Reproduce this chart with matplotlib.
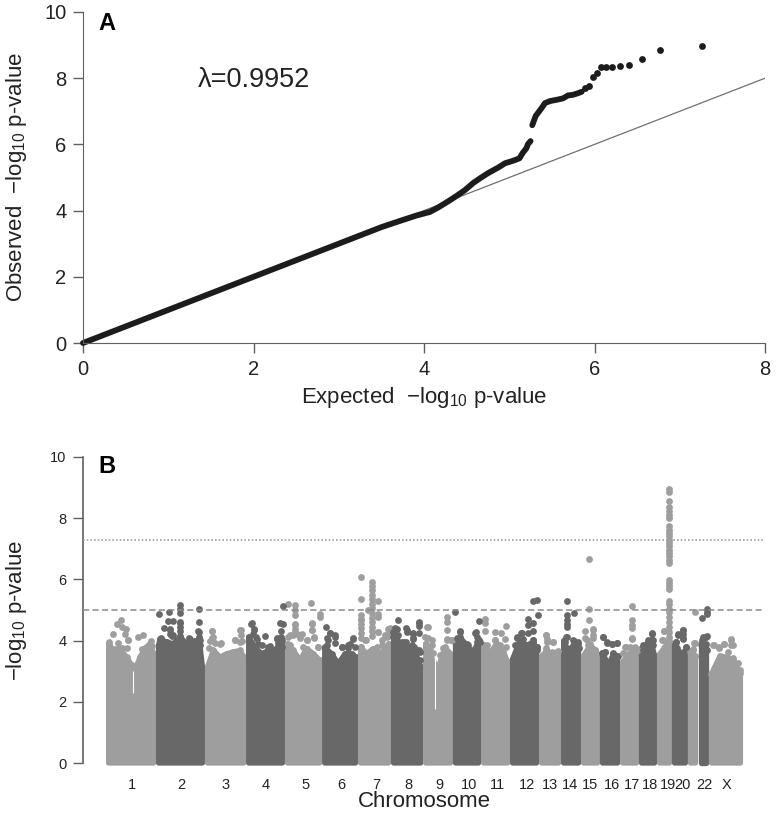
from matplotlib import pyplot as plt

plt.rcParams["font.family"] = ["Liberation Sans", "DejaVu Sans"]
plt.rcParams["mathtext.fontset"] = "custom"
plt.rcParams["mathtext.rm"] = "Liberation Sans"
plt.rcParams["mathtext.default"] = "regular"

LIGHT = "#9e9e9e"
DARK = "#686868"
INK = "#222222"
AXIS = "#606060"

# panel A, the thick part of the curve
qq_x = [0, 1, 2, 3, 3.5, 3.72, 3.91, 4.07, 4.17, 4.29, 4.38, 4.48, 4.58, 4.66, 4.75, 4.87,
        4.95, 5.05, 5.12, 5.16, 5.20, 5.22, 5.25]
qq_y = [0, 1, 2, 3, 3.5, 3.69, 3.85, 3.96, 4.10, 4.29, 4.44, 4.62, 4.84, 4.98, 5.13, 5.30,
        5.43, 5.51, 5.58, 5.75, 5.88, 6.01, 6.10]
qq_upper_x = [5.27, 5.29, 5.31, 5.34, 5.38, 5.42, 5.48, 5.56, 5.63, 5.69, 5.75, 5.81, 5.85]
qq_upper_y = [6.58, 6.72, 6.86, 6.96, 7.10, 7.25, 7.31, 7.35, 7.39, 7.48, 7.50, 7.55, 7.59]
# panel A, separate points
qq_dots_x = [5.89, 5.93, 5.98, 6.03, 6.08, 6.14, 6.21, 6.30, 6.41, 6.56, 6.77, 7.26]
qq_dots_y = [7.71, 7.75, 8.04, 8.16, 8.34, 8.34, 8.34, 8.38, 8.40, 8.57, 8.86, 8.98]

# panel B, top of the solid mass per chromosome
chrom_pos = [
    [12, 35, 66, 98, 122, 138, 162, 185, 209, 226],
    [250, 257, 289, 320, 352, 384, 415, 447, 459],
    [483, 511, 543, 574, 606, 638, 655],
    [679, 709, 741, 773, 804, 840],
    [864, 892, 923, 955, 987, 1017],
    [1041, 1074, 1106, 1138, 1169, 1188],
    [1212, 1241, 1272, 1304, 1336, 1345],
    [1369, 1400, 1432, 1464, 1498],
    [1522, 1543, 1556, 1583, 1614, 1640],
    [1664, 1686, 1718, 1749, 1774],
    [1798, 1829, 1860, 1892, 1912],
    [1936, 1971, 2003, 2035, 2050],
    [2074, 2099, 2130, 2155],
    [2179, 2202, 2233, 2250],
    [2274, 2305, 2329, 2340],
    [2364, 2392, 2416, 2436],
    [2460, 2487, 2511, 2526],
    [2550, 2575, 2598, 2612],
    [2636, 2662, 2683],
    [2707, 2733, 2759],
    [2783, 2807],
    [2831, 2859],
    [2883, 2924, 2955, 2987, 3021],
]
chrom_top = [
    [3.9, 3.68, 3.74, 3.46, 3.2, 3.05, 3.46, 3.74, 3.9, 3.57],
    [3.85, 4.06, 3.95, 3.9, 4.12, 3.9, 3.95, 3.85, 3.14],
    [3.14, 3.68, 3.46, 3.57, 3.63, 3.68, 3.46],
    [4.12, 3.79, 3.57, 3.68, 3.68, 4.01],
    [3.9, 3.68, 3.36, 3.74, 3.57, 3.36],
    [3.79, 3.57, 3.25, 3.57, 3.57, 3.46],
    [3.79, 3.57, 3.74, 3.57, 3.79, 3.9],
    [4.0, 3.79, 3.79, 3.79, 3.14],
    [3.9, 3.68, 3.3, 3.14, 3.79, 3.57],
    [3.95, 4.12, 3.8, 3.65, 3.95],
    [3.85, 3.6, 3.9, 3.65, 3.3],
    [3.4, 4.0, 3.85, 3.95, 3.7],
    [3.5, 3.65, 3.4, 3.55],
    [4.0, 3.6, 3.95, 3.75],
    [3.5, 3.85, 3.7, 3.55],
    [3.6, 3.2, 3.55, 3.5],
    [3.3, 3.55, 3.7, 3.5],
    [3.75, 3.9, 3.9, 3.5],
    [3.55, 3.8, 4.0],
    [3.9, 3.6, 3.65],
    [3.65, 3.5],
    [3.9, 3.9],
    [2.92, 3.5, 3.45, 3.35, 2.95],
]
chrom_color = [LIGHT, DARK] * 11 + [LIGHT]

# centromere notches
notch_x = [128, 1567]
notch_low = [2.3, 1.75]
notch_high = [3.0, 3.4]

# panel B, points above the mass
light_x = [71, 50, 74, 95, 90, 106, 31, 154, 174,
           15, 15, 58, 74, 106, 98, 42, 185, 212, 217, 169,
           506, 511, 495, 543, 642, 642, 615, 638,
           503, 503, 519, 545, 491, 614, 646, 638,
           866, 899, 899, 899, 974, 1019, 1019, 899, 899, 982, 979, 907, 931, 876, 955, 990, 1011,
           868, 892, 924, 956, 988, 1011, 900, 900, 980, 980, 876, 940,
           1214, 1212, 1214, 1214, 1214, 1214, 1214, 1214,
           1268, 1268, 1268, 1268, 1268, 1268, 1268, 1268, 1268, 1268, 1268, 1268, 1268,
           1296, 1246, 1296, 1296, 1293, 1238, 1344, 1328, 1352, 1312,
           1214, 1233, 1297, 1337, 1353, 1349, 1313, 1289, 1214,
           1532, 1519, 1551, 1622, 1622, 1622, 1622, 1641,
           1530, 1535, 1551, 1559, 1606, 1622, 1646, 1590,
           1805, 1805, 1805, 1852, 1879, 1905, 1900, 1852, 1813,
           1805, 1852, 1876, 1905, 1828,
           2094, 2098, 2130, 2094, 2154,
           2094, 2098, 2128, 2094, 2122, 2149,
           2300, 2300, 2300, 2321, 2281, 2321, 2289, 2305,
           2281, 2318, 2321, 2297, 2305, 2329,
           2506, 2506, 2506, 2506, 2503, 2471, 2495,
           2475, 2503, 2519, 2535, 2464,
           2681, 2681, 2681, 2681, 2681, 2681, 2681, 2681, 2681, 2681, 2681, 2681, 2681, 2681,
           2681, 2681, 2681, 2681, 2681, 2681, 2681, 2681, 2681, 2681, 2681, 2681, 2681, 2681,
           2681, 2681, 2681, 2681, 2681, 2659, 2654,
           2657, 2646, 2662,
           2803, 2803, 2797, 2802, 2797,
           2895, 2921, 2943, 2974, 2974,
           2892, 2921, 2943, 2976, 2984, 2963, 2987, 3011, 3019, 2924]
light_y = [4.68, 4.55, 4.44, 4.39, 4.23, 4.01, 4.20, 4.12, 4.17,
           3.96, 3.76, 3.92, 3.76, 4.03, 3.76, 3.71, 3.76, 3.98, 3.82, 3.71,
           4.30, 4.12, 4.0, 3.9, 4.34, 4.17, 4.03, 3.95,
           4.3, 4.08, 3.92, 3.92, 3.76, 4.03, 3.98, 4.36,
           5.2, 5.15, 4.99, 4.83, 5.23, 4.88, 4.77, 4.55, 4.39, 4.55, 4.34, 4.23, 4.2, 4.17, 4.03, 4.12, 3.79,
           4.13, 4.18, 4.08, 4.02, 4.08, 3.8, 4.51, 4.29, 4.57, 4.35, 3.86, 3.8,
           6.08, 5.37, 4.83, 4.7, 4.55, 4.4, 4.25, 4.1,
           5.92, 5.8, 5.65, 5.5, 5.35, 5.2, 5.05, 4.9, 4.75, 4.6, 4.45, 4.3, 4.15,
           5.29, 4.99, 4.88, 4.77, 4.28, 4.01, 4.39, 4.17, 4.28, 4.01,
           4.67, 4.02, 4.29, 4.13, 4.4, 4.24, 3.86, 3.8, 3.8,
           4.44, 4.12, 4.01, 4.77, 4.61, 4.34, 4.06, 4.03,
           4.43, 4.08, 3.86, 3.59, 3.75, 4.02, 4.02, 3.53,
           4.72, 4.58, 4.31, 4.28, 4.26, 4.47, 4.06, 4.01, 3.85,
           3.8, 4.02, 3.86, 3.78, 3.64,
           4.19, 4.06, 3.95, 3.68, 3.66,
           4.18, 3.97, 3.97, 3.75, 3.64, 3.64,
           6.68, 5.02, 4.67, 4.36, 4.31, 4.17, 4.03, 3.88,
           4.08, 4.37, 4.08, 3.86, 3.7, 3.7,
           5.14, 4.66, 4.52, 4.41, 4.06, 3.79, 3.79,
           3.8, 4.08, 3.8, 3.7, 3.59,
           8.97, 8.86, 8.55, 8.37, 8.24, 8.09, 8.0, 7.73, 7.62, 7.52, 7.41, 7.3, 7.19, 7.08,
           6.97, 6.86, 6.75, 6.64, 6.54, 5.99, 5.88, 5.77, 5.67, 5.29, 5.19, 5.04, 4.93, 4.77,
           4.61, 4.44, 4.28, 4.12, 4.0, 4.31, 4.01,
           4.33, 4.02, 3.75,
           4.93, 3.93, 3.74, 3.93, 3.7,
           3.85, 3.77, 3.88, 4.01, 3.85,
           3.86, 3.78, 3.89, 4.04, 3.86, 3.64, 3.42, 3.26, 3.04, 3.48]
dark_x = [254, 300, 352, 352, 352, 442, 442, 277, 293, 317, 304, 317, 442, 442, 352, 352, 352, 352, 304, 400, 423,
          260, 304, 312, 352, 396, 439, 447, 423,
          688, 704, 701, 717, 757, 841, 828, 841, 833, 833, 812, 825, 725, 780,
          694, 702, 715, 742, 773, 797, 813, 821, 837,
          1046, 1066, 1090, 1058, 1162, 1177, 1122, 1154,
          1051, 1054, 1091, 1091, 1122, 1154, 1178, 1186, 1067,
          1392, 1429, 1432, 1384, 1368, 1376, 1460, 1460, 1489, 1489, 1489, 1419, 1492, 1495, 1376, 1365,
          1384, 1432, 1392, 1408, 1460, 1460, 1490, 1429, 1456, 1479, 1495, 1408,
          1664, 1686, 1776, 1762, 1765, 1781, 1718,
          1686, 1670, 1702, 1725, 1757, 1765, 1778,
          2032, 2054, 2056, 2011, 2011, 2035, 2011, 2032, 1979, 1987, 1956, 2035, 2054,
          1955, 1947, 1974, 1979, 2032, 2011, 2051,
          2194, 2230, 2194, 2194, 2194, 2194, 2194, 2225, 2249,
          2191, 2186, 2229, 2249, 2194,
          2368, 2387, 2411, 2435, 2376,
          2368, 2384, 2411, 2435, 2376, 2416,
          2602, 2583, 2606, 2559,
          2559, 2578, 2598, 2594, 2606,
          2749, 2749, 2725, 2749, 2714, 2762,
          2714, 2725, 2749, 2749, 2762, 2717,
          2840, 2863, 2863, 2863, 2852, 2859, 2836, 2844,
          2844, 2863, 2848, 2860]
dark_y = [4.86, 4.92, 5.15, 5.04, 4.90, 5.04, 4.62, 4.42, 4.63, 4.65, 4.39, 4.17, 4.28, 4.12, 4.6, 4.45, 4.3, 4.15, 4.22, 4.06, 4.0,
          4.07, 4.36, 4.14, 4.58, 4.07, 4.3, 4.03, 3.98,
          4.53, 4.39, 4.23, 4.06, 4.15, 5.12, 4.58, 4.53, 4.31, 4.12, 4.06, 3.95, 3.9, 3.81,
          4.57, 4.35, 4.13, 3.86, 3.8, 3.7, 4.08, 3.91, 3.8,
          4.43, 4.25, 4.17, 4.01, 3.9, 4.06, 3.79, 3.77,
          4.08, 3.86, 4.13, 3.91, 3.8, 3.86, 4.08, 3.8, 4.26,
          4.66, 4.42, 4.28, 4.39, 4.28, 3.95, 4.23, 4.06, 4.61, 4.47, 4.26, 3.95, 3.68, 3.36, 4.41, 4.12,
          4.02, 4.35, 4.18, 3.8, 4.24, 4.08, 4.57, 3.97, 3.86, 3.7, 3.64, 3.97,
          4.93, 4.31, 4.63, 4.28, 4.12, 3.95, 3.9,
          4.29, 4.08, 3.97, 3.86, 4.24, 3.97, 4.02,
          5.29, 5.34, 4.85, 4.69, 4.5, 4.58, 4.25, 4.3, 4.25, 4.06, 4.12, 4.01, 3.79,
          4.08, 3.86, 4.24, 3.97, 4.02, 3.86, 3.8,
          5.3, 4.91, 4.83, 4.66, 4.55, 4.44, 4.12, 4.01, 3.95,
          4.13, 3.97, 4.0, 3.89, 3.75,
          4.12, 3.95, 3.9, 3.93, 3.63,
          4.13, 3.91, 3.89, 3.91, 3.64, 3.59,
          4.22, 4.03, 4.01, 3.85,
          3.7, 3.86, 4.24, 4.02, 3.86,
          4.36, 4.23, 4.17, 4.06, 3.95, 3.79,
          3.97, 4.22, 4.35, 4.08, 3.78, 3.75,
          4.74, 5.04, 4.93, 4.86, 4.12, 4.12, 4.01, 3.79,
          4.13, 4.15, 3.86, 3.7]

chrom_ticks = [124, 357, 571, 762, 948, 1119, 1286, 1438, 1586, 1729, 1862, 2005, 2114, 2210, 2305, 2410,
               2505, 2590, 2676, 2743, 2848, 2957]
chrom_labels = ["1", "2", "3", "4", "5", "6", "7", "8", "9", "10", "11", "12", "13", "14", "15", "16",
                "17", "18", "19", "20", "22", "X"]

fig = plt.figure(figsize = (7.76, 8.13), dpi = 100)

# panel A
ax = fig.add_axes([83 / 776, 1 - 343 / 813, 682 / 776, 331 / 813])
ax.plot([0, 8], [0, 8], color = "#707070", lw = 0.9)
ax.plot(qq_x, qq_y, color = "#1c1c1c", lw = 4.2, solid_capstyle = "round", clip_on = False)
ax.plot(qq_upper_x, qq_upper_y, color = "#1c1c1c", lw = 4.2, solid_capstyle = "round")
ax.scatter(qq_dots_x, qq_dots_y, s = 24, color = "#1c1c1c", linewidths = 0, zorder = 3)
ax.set_xlim(0, 8)
ax.set_ylim(0, 10)
ax.set_xticks([0, 2, 4, 6, 8])
ax.set_yticks([0, 2, 4, 6, 8, 10])
ax.tick_params(length = 7, width = 1, color = AXIS, labelsize = 14.5, labelcolor = INK, pad = 5)
for name in ["top", "right"]:
    ax.spines[name].set_visible(False)
for name in ["left", "bottom"]:
    ax.spines[name].set_color(AXIS)
fig.text(424 / 776, 1 - 397 / 813, "Expected  $-$log$_{10}$ p-value", fontsize = 16, color = INK, ha = "center", va = "center")
fig.text(17 / 776, 1 - 177 / 813, "Observed  $-$log$_{10}$ p-value", fontsize = 16, color = INK,
         rotation = 90, ha = "center", va = "center")
fig.text(98 / 776, 1 - 24 / 813, "A", fontsize = 17, fontweight = "bold", color = "black", va = "center")
fig.text(198 / 776, 1 - 80 / 813, "\u03bb=0.9952", fontsize = 19.5, color = INK, va = "center")

# panel B
bx = fig.add_axes([83 / 776, 1 - 763 / 813, 682 / 776, 306 / 813])
for pos, top, color in zip(chrom_pos, chrom_top, chrom_color):
    xs = [pos[0]] + pos + [pos[-1]]
    ys = [0] + top + [0]
    bx.fill(xs, ys, facecolor = color, edgecolor = color, lw = 3.8, joinstyle = "round", clip_on = False, zorder = 2)
    bx.scatter(pos, top, s = 24, color = color, linewidths = 0, clip_on = False, zorder = 2)
bx.vlines(notch_x, notch_low, notch_high, color = "white", lw = 0.8, zorder = 2.5)
bx.scatter(light_x, light_y, s = 24, color = LIGHT, linewidths = 0, zorder = 3)
bx.scatter(dark_x, dark_y, s = 24, color = DARK, linewidths = 0, zorder = 3)
bx.axhline(7.3, color = "#a0a0a0", lw = 1.2, ls = (0, (1, 1.2)), zorder = 4)
bx.axhline(5, color = "#8a8a8a", lw = 1.1, ls = (0, (4, 2.2)), zorder = 4)
bx.set_xlim(-110, 3138)
bx.set_ylim(0, 10)
bx.set_yticks([0, 2, 4, 6, 8, 10])
bx.set_xticks(chrom_ticks)
bx.set_xticklabels(chrom_labels)
bx.tick_params(axis = "x", length = 0, labelsize = 10.5, labelcolor = INK, pad = 11)
bx.tick_params(axis = "y", length = 7, width = 1, color = AXIS, labelsize = 10.5, labelcolor = INK, pad = 5)
for name in ["top", "right", "bottom"]:
    bx.spines[name].set_visible(False)
bx.spines["left"].set_color(AXIS)
bx.spines["left"].set_linewidth(1.2)
fig.text(424 / 776, 1 - 801 / 813, "Chromosome", fontsize = 16, color = INK, ha = "center", va = "center")
fig.text(17 / 776, 1 - 610 / 813, "$-$log$_{10}$ p-value", fontsize = 16, color = INK,
         rotation = 90, ha = "center", va = "center")
fig.text(98 / 776, 1 - 466 / 813, "B", fontsize = 17, fontweight = "bold", color = "black", va = "center")

plt.savefig("out.png", dpi = 100)
